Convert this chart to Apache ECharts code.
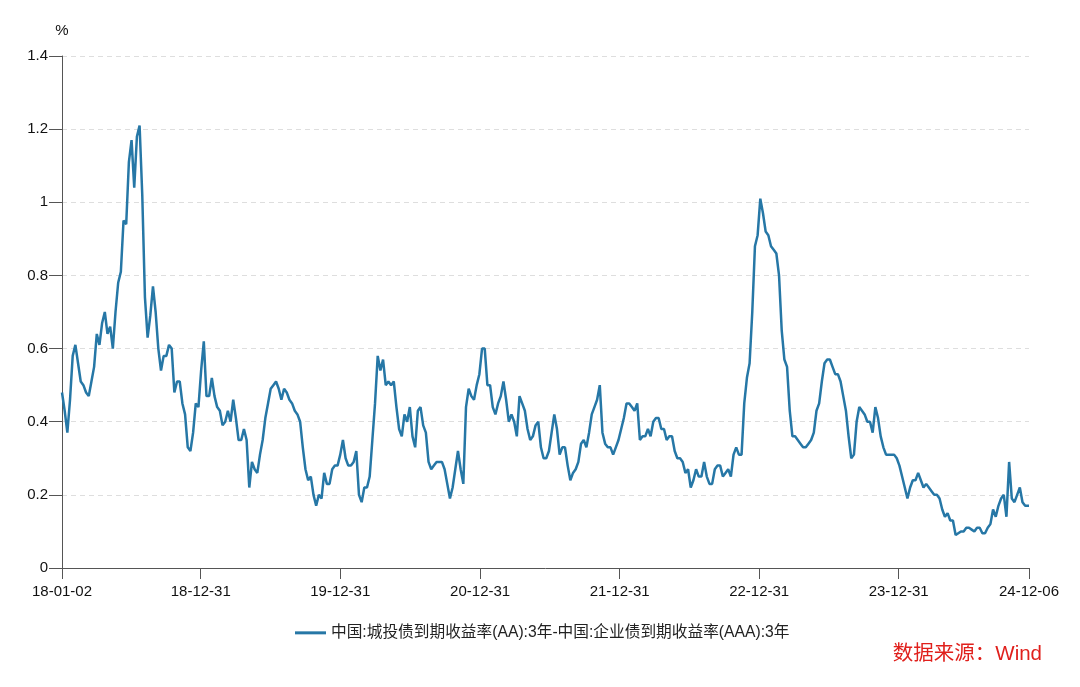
<!DOCTYPE html>
<html><head><meta charset="utf-8">
<script src="https://cdn.jsdelivr.net/npm/echarts@6/dist/echarts.min.js"></script>
<style>html,body{margin:0;padding:0;background:#fff}#c{width:1080px;height:687px}</style>
</head><body><div id="c"></div>
<script>
const seriesName = '中国:城投债到期收益率(AA):3年-中国:企业债到期收益率(AAA):3年';
const sourceText = '数据来源：Wind';
const startDate = '2018-01-02';
const endDate = '2024-12-06';
const stepDays = 7;
const tickLabels = ['18-01-02','18-12-31','19-12-31','20-12-31','21-12-31','22-12-31','23-12-31','24-12-06'];

const v2018 = [0.48,0.43,0.37,0.46,0.58,0.61,0.56,0.51,0.50,0.48,
  0.47,0.51,0.55,0.64,0.61,0.67,0.70,0.64,0.66,0.60,
  0.70,0.78,0.81,0.95,0.94,1.11,1.17,1.04,1.18,1.21,
  1.02,0.74,0.63,0.69,0.77,0.70,0.60,0.54,0.58,0.58,
  0.61,0.60,0.48,0.51,0.51,0.45,0.42,0.33,0.32,0.37,
  0.45,0.44];
const v2019 = [0.54,0.62,0.47,0.47,0.52,0.47,0.44,0.43,0.39,0.40,
  0.43,0.40,0.46,0.41,0.35,0.35,0.38,0.35,0.22,0.29,
  0.27,0.26,0.31,0.35,0.41,0.45,0.49,0.50,0.51,0.49,
  0.46,0.49,0.48,0.46,0.45,0.43,0.42,0.40,0.33,0.27,
  0.24,0.25,0.20,0.17,0.20,0.19,0.26,0.23,0.23,0.27,
  0.28,0.28];
const v2020 = [0.31,0.35,0.30,0.28,0.28,0.29,0.32,0.20,0.18,0.22,
  0.22,0.25,0.35,0.45,0.58,0.54,0.57,0.50,0.51,0.50,
  0.51,0.44,0.38,0.36,0.42,0.40,0.44,0.36,0.33,0.43,
  0.44,0.39,0.37,0.29,0.27,0.28,0.29,0.29,0.29,0.27,
  0.23,0.19,0.22,0.27,0.32,0.27,0.23,0.44,0.49,0.47,
  0.46,0.50];
const v2021 = [0.53,0.60,0.60,0.50,0.50,0.44,0.42,0.45,0.47,0.51,
  0.46,0.40,0.42,0.40,0.36,0.47,0.45,0.43,0.38,0.35,
  0.36,0.39,0.40,0.33,0.30,0.30,0.32,0.37,0.42,0.38,
  0.31,0.33,0.33,0.28,0.24,0.26,0.27,0.29,0.34,0.35,
  0.33,0.37,0.42,0.44,0.46,0.50,0.37,0.34,0.33,0.33,
  0.31,0.33];
const v2022 = [0.35,0.38,0.41,0.45,0.45,0.44,0.43,0.45,0.35,0.36,
  0.36,0.38,0.36,0.40,0.41,0.41,0.38,0.38,0.35,0.36,
  0.36,0.32,0.30,0.30,0.29,0.26,0.27,0.22,0.24,0.27,
  0.25,0.25,0.29,0.25,0.23,0.23,0.27,0.28,0.28,0.25,
  0.26,0.27,0.25,0.31,0.33,0.31,0.31,0.45,0.52,0.56,
  0.70,0.88];
const v2023 = [0.91,1.01,0.97,0.92,0.91,0.88,0.87,0.86,0.80,0.65,
  0.57,0.55,0.43,0.36,0.36,0.35,0.34,0.33,0.33,0.34,
  0.35,0.37,0.43,0.45,0.51,0.56,0.57,0.57,0.55,0.53,
  0.53,0.51,0.47,0.43,0.36,0.30,0.31,0.40,0.44,0.43,
  0.42,0.40,0.40,0.37,0.44,0.41,0.36,0.33,0.31,0.31,
  0.31,0.31];
const v2024 = [0.30,0.28,0.25,0.22,0.19,0.22,0.24,0.24,0.26,0.24,
  0.22,0.23,0.22,0.21,0.20,0.20,0.19,0.16,0.14,0.15,
  0.13,0.13,0.09,0.095,0.10,0.10,0.11,0.11,0.105,0.10,
  0.11,0.11,0.095,0.095,0.11,0.12,0.16,0.14,0.17,0.19,
  0.20,0.14,0.29,0.19,0.18,0.20,0.22,0.18,0.17,0.17,
  0.17];

function parseYMD(s){const p=s.split('-').map(Number);return new Date(p[0],p[1]-1,p[2]).getTime();}
function parseShort(s){const p=s.split('-').map(Number);return new Date(2000+p[0],p[1]-1,p[2]).getTime();}
function pad(n){return (n<10?'0':'')+n;}
function fmt(t){const d=new Date(t);return String(d.getFullYear()).slice(2)+'-'+pad(d.getMonth()+1)+'-'+pad(d.getDate());}

const values = [].concat(v2018,v2019,v2020,v2021,v2022,v2023,v2024);
const t0 = parseYMD(startDate), tEnd = parseYMD(endDate);
const sp = startDate.split('-').map(Number);
const data = values.map((v,i)=>{
  let t = (i===values.length-1) ? tEnd : new Date(sp[0],sp[1]-1,sp[2]+stepDays*i).getTime();
  return [t,v];
});
const tickValues = tickLabels.map(parseShort);

const FONT = "'Liberation Sans', 'Noto Sans CJK SC', sans-serif";
const chart = echarts.init(document.getElementById('c'), null, {renderer:'canvas'});
chart.setOption({
  animation:false,
  backgroundColor:'#fff',
  textStyle:{fontFamily:FONT},
  grid:{left:62,right:51,top:56,bottom:119,containLabel:false},
  xAxis:{
    type:'value', min:t0, max:tEnd, scale:true,
    axisLine:{lineStyle:{color:'#555',width:1}},
    axisTick:{show:true,customValues:tickValues,length:11,lineStyle:{color:'#555'}},
    axisLabel:{customValues:tickValues,formatter:(v)=>fmt(v),fontSize:15,color:'#111',margin:16,fontFamily:FONT},
    splitLine:{show:false}
  },
  yAxis:{
    type:'value', min:0, max:1.4, interval:0.2,
    name:'%', nameLocation:'end', nameGap:18,
    nameTextStyle:{fontSize:15,color:'#111',fontFamily:FONT,align:'center'},
    axisLine:{show:true,lineStyle:{color:'#555',width:1}},
    axisTick:{show:true,length:13,lineStyle:{color:'#555'}},
    axisLabel:{fontSize:15,color:'#111',margin:14,fontFamily:FONT},
    splitLine:{show:true,lineStyle:{color:'#dedede',type:[5,4],width:1}}
  },
  legend:{
    left:290, top:620,
    icon:'rect', itemWidth:31, itemHeight:3, itemGap:10,
    textStyle:{fontSize:15.7,color:'#222',fontFamily:FONT},
    data:[seriesName]
  },
  graphic:[{
    type:'text', right:38, top:644,
    style:{text:sourceText,fill:'#e0201c',font:"20.5px 'Liberation Sans','Noto Sans CJK SC',sans-serif"}
  }],
  series:[{
    name:seriesName, type:'line', data:data,
    showSymbol:false, symbol:'none',
    lineStyle:{color:'#2677a6',width:2.5},
    itemStyle:{color:'#2677a6'}
  }]
});
</script></body></html>
